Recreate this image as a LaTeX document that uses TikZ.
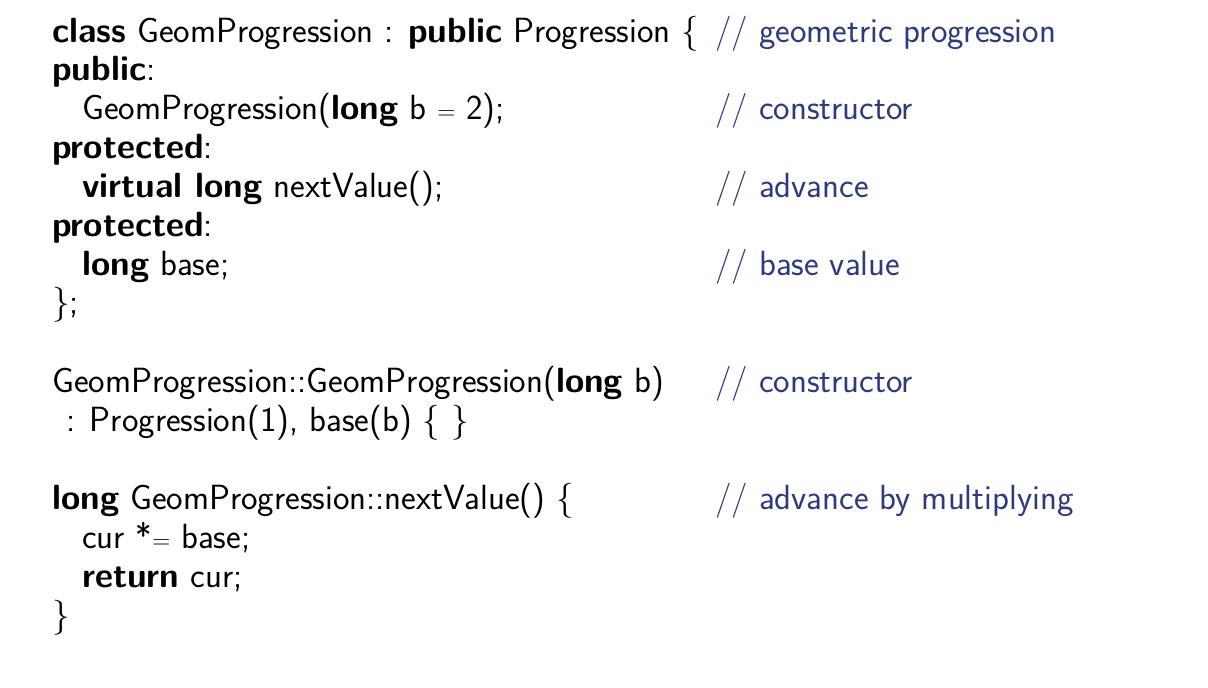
\documentclass[tikz,border=0pt]{standalone}
\usepackage{xcolor}
\definecolor{cmtcol}{HTML}{2E3A80}
\begin{document}
\begin{tikzpicture}[x=1pt,y=-1pt,
  code/.style={anchor=base west,inner sep=0pt,font=\sffamily\fontsize{35}{40}\selectfont},
  cmtline/.style={code,text=cmtcol}]
\useasboundingbox (0,0) rectangle (1208,688);
\fill[white] (0,0) rectangle (1208,688);
\node[code] (l1) at (52,42) {\textbf{class} GeomProgression : \textbf{public} Progression \{};
\node[cmtline] (c1) at (715,42) {// geometric progression};
\node[code] (l2) at (52,80) {\textbf{public}:};
\node[code] (l3) at (82,119) {GeomProgression(\textbf{long} b $=$ 2);};
\node[cmtline] (c3) at (715,119) {// constructor};
\node[code] (l4) at (52,158) {\textbf{protected}:};
\node[code] (l5) at (82,197) {\textbf{virtual long} nextValue();};
\node[cmtline] (c5) at (715,197) {// advance};
\node[code] (l6) at (52,236) {\textbf{protected}:};
\node[code] (l7) at (82,275) {\textbf{long} base;};
\node[cmtline] (c7) at (715,275) {// base value};
\node[code] (l8) at (52,313) {\};};
\node[code] (l9) at (52,392) {GeomProgression::GeomProgression(\textbf{long} b)};
\node[cmtline] (c9) at (715,392) {// constructor};
\node[code] (l10) at (66,431) {: Progression(1), base(b) \{ \}};
\node[code] (l11) at (52,509) {\textbf{long} GeomProgression::nextValue() \{};
\node[cmtline] (c11) at (715,509) {// advance by multiplying};
\node[code] (l12) at (82,548) {cur *$=$ base;};
\node[code] (l13) at (82,587) {\textbf{return} cur;};
\node[code] (l14) at (52,626) {\}};
\end{tikzpicture}
\end{document}
